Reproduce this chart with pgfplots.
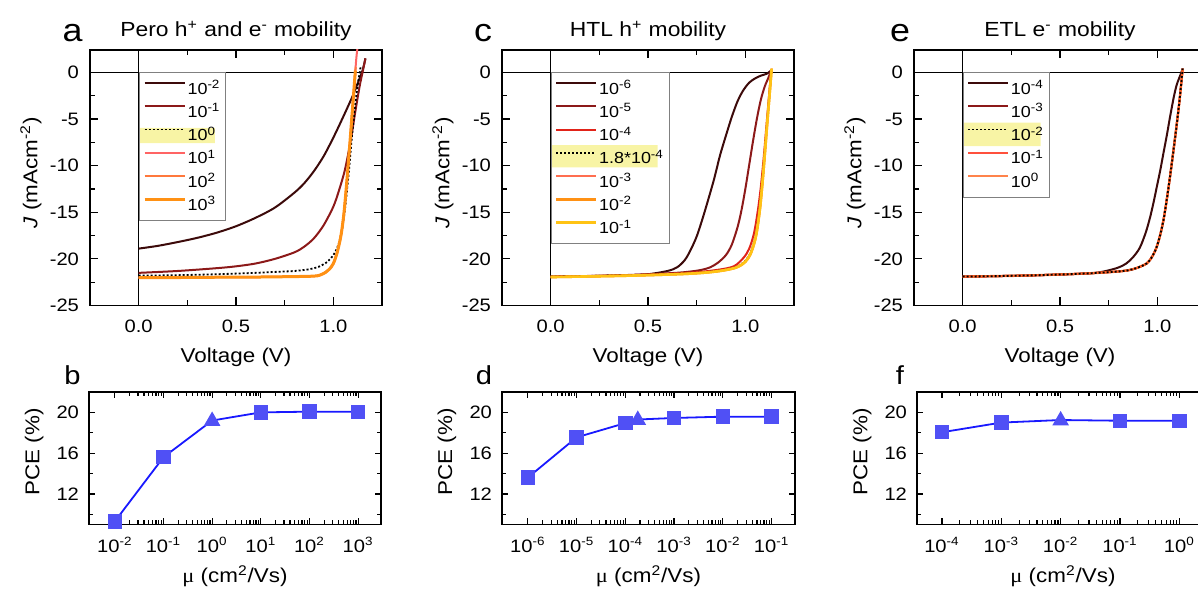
\documentclass[border=0pt]{standalone}
\usepackage{pgfplots}
\pgfplotsset{compat=1.18}
\usepackage{fontspec}
\setmainfont[FakeStretch=1.12]{Liberation Sans}
\newfontfamily\mufont[FakeStretch=1.12]{Liberation Serif}
\definecolor{dk}{RGB}{60,10,10}
\definecolor{dr}{RGB}{140,25,25}
\definecolor{rd}{RGB}{225,35,25}
\definecolor{sal}{RGB}{255,100,100}
\definecolor{sal2}{RGB}{255,110,80}
\definecolor{orr}{RGB}{255,120,60}
\definecolor{org}{RGB}{255,145,20}
\definecolor{ylw}{RGB}{255,195,20}
\definecolor{er1}{RGB}{255,80,60}
\definecolor{er0}{RGB}{255,100,30}
\definecolor{hl}{RGB}{248,244,165}
\definecolor{bline}{RGB}{25,25,255}
\definecolor{bmark}{RGB}{80,80,245}
\pgfplotsset{
  every axis/.append style={scale only axis, anchor=south west,
    axis line style={line width=0.7pt}, tick style={line width=0.6pt, black},
    tick align=inside, /pgf/number format/assume math mode=true,
    tick label style={font=\fontsize{9}{10}\selectfont},
    label style={font=\fontsize{10}{12}\selectfont},
    title style={font=\fontsize{10.2}{12}\selectfont, at={(0.5,1)}, anchor=base, yshift=0.5pt},
  },
  every axis plot/.append style={line width=1pt},
  zeroline/.style={black, line width=0.6pt, forget plot},
  hlbox/.style={fill=hl, draw=none, forget plot},
  dotline/.style={black, densely dotted, line width=0.9pt},
  jv/.style={width=146pt, height=127.75pt, xmin=-0.25, xmax=1.25, ymin=-25, ymax=2.4,
    xtick={0,0.5,1}, xticklabels={0.0,0.5,1.0}, minor xtick={0.25,0.75},
    ytick={-25,-20,-15,-10,-5,0}, minor ytick={-22.5,-17.5,-12.5,-7.5,-2.5},
    major tick length=4pt, minor tick length=2.5pt,
    xticklabel style={anchor=base, yshift=-13.75pt},
    yticklabel style={anchor=east, xshift=-2pt},
    xlabel={Voltage (V)}, ylabel={\textit{J} (mAcm\textsuperscript{-2})},
    xlabel style={at={(axis description cs:0.5,0)}, anchor=base, yshift=-28.75pt},
    ylabel style={at={(axis description cs:-0.202,0.52)}, anchor=center, rotate=0},
    legend cell align=left,
    legend image code/.code={\draw[##1] (0pt,2.8pt) -- (20pt,2.8pt);},
    legend style={draw=gray, line width=0.5pt, fill=none, inner sep=2pt, row sep=0pt,
      font=\fontsize{8}{9}\selectfont,
      nodes={inner sep=0.7pt, text height=7.9pt, text depth=2.35pt}},
  },
  pce/.style={width=146pt, height=66.25pt, ymin=9, ymax=22,
    ytick={12,16,20}, minor ytick={10,14,18,22},
    major tick length=3pt, minor tick length=2pt,
    xticklabel style={anchor=base, yshift=-14.25pt},
    yticklabel style={anchor=east, xshift=-1.5pt},
    ylabel={PCE (\%)}, xlabel={{\mufont μ} (cm\textsuperscript{2}/Vs)},
    xlabel style={at={(axis description cs:0.5,0)}, anchor=base, yshift=-29.25pt},
    ylabel style={at={(axis description cs:-0.188,0.547)}, anchor=center},
    log number format basis/.code 2 args={##1\textsuperscript{\pgfmathprintnumber{##2}}},
  },
  pline/.style={color=bline, line width=0.9pt, mark=none},
  psq/.style={only marks, mark=square*, mark size=3.1pt, mark options={fill=bmark, draw=bmark}},
  ptri/.style={only marks, mark=triangle*, mark size=3.8pt, mark options={fill=bmark, draw=bmark}},
}
\begin{document}
\begin{tikzpicture}
\path[use as bounding box] (0,0) rectangle (599pt,296pt);
\node[anchor=base, font=\fontsize{16}{18}\selectfont] at (36.25pt,275pt) {a};
\node[anchor=base, font=\fontsize{16}{18}\selectfont] at (241.5pt,275pt) {c};
\node[anchor=base, font=\fontsize{16}{18}\selectfont] at (450pt,275pt) {e};
\node[anchor=base, font=\fontsize{13}{15}\selectfont] at (36.25pt,103.5pt) {b};
\node[anchor=base, font=\fontsize{13}{15}\selectfont] at (242pt,103.5pt) {d};
\node[anchor=base, font=\fontsize{13}{15}\selectfont] at (450pt,103.5pt) {f};

% ---------- a ----------
\begin{axis}[jv, at={(45pt,143.25pt)}, title={Pero h\textsuperscript{+} and e\textsuperscript{-} mobility},
  legend style={at={(0.16667,0.91241)}, anchor=north west}]
\addplot[hlbox] coordinates {(0,-5.95) (0.392,-5.95) (0.392,-7.6) (0,-7.6) (0,-5.95)};
\addplot[zeroline] coordinates {(-0.25,0) (1.25,0)};
\addplot[zeroline] coordinates {(0,-25) (0,2.4)};
\addplot[dk, smooth] coordinates {(0,-18.9) (0.1,-18.6) (0.2,-18.2) (0.3,-17.75) (0.4,-17.2) (0.5,-16.5) (0.6,-15.6) (0.7,-14.5) (0.8,-12.9) (0.85,-11.9) (0.9,-10.6) (0.95,-9.0) (1.0,-7.0) (1.05,-4.8) (1.1,-2.5) (1.13,-0.9) (1.15,0.2) (1.165,1.5)};
\addlegendentry{10\textsuperscript{-2}}
\addplot[dr, smooth] coordinates {(0,-21.5) (0.2,-21.3) (0.4,-21.0) (0.5,-20.8) (0.6,-20.5) (0.7,-20.0) (0.8,-19.3) (0.85,-18.7) (0.9,-17.8) (0.95,-16.4) (1.0,-14.4) (1.03,-12.6) (1.06,-10.4) (1.09,-7.2) (1.113,-4.2) (1.135,-1.5) (1.152,0.2) (1.165,1.5)};
\addlegendentry{10\textsuperscript{-1}}
\addplot[dotline, smooth] coordinates {(0,-21.8) (0.2,-21.75) (0.4,-21.65) (0.6,-21.5) (0.7,-21.4) (0.8,-21.3) (0.88,-21.1) (0.93,-20.8) (0.97,-20.3) (1.0,-19.6) (1.02,-18.8) (1.04,-17.4) (1.06,-14.6) (1.079,-10.8) (1.095,-7.0) (1.113,-3.4) (1.127,-1.1) (1.136,0) (1.14,0.6)};
\addlegendentry{10\textsuperscript{0}}
\addplot[sal, smooth] coordinates {(0,-22.0) (0.2,-22.0) (0.4,-21.97) (0.6,-21.95) (0.8,-21.9) (0.9,-21.85) (0.93,-21.75) (0.96,-21.45) (0.98,-21.1) (1.0,-20.5) (1.02,-19.3) (1.04,-17.4) (1.055,-15.0) (1.07,-11.5) (1.085,-7.6) (1.098,-4.0) (1.11,-0.7) (1.118,1.5) (1.126,3.0)};
\addlegendentry{10\textsuperscript{1}}
\addplot[orr, smooth] coordinates {(0,-22.0) (0.2,-22.0) (0.4,-21.97) (0.6,-21.95) (0.8,-21.9) (0.9,-21.85) (0.93,-21.75) (0.96,-21.45) (0.98,-21.1) (1.0,-20.5) (1.02,-19.3) (1.04,-17.4) (1.055,-15.0) (1.07,-11.5) (1.085,-7.6) (1.098,-4.0) (1.11,-0.7) (1.115,0.6)};
\addlegendentry{10\textsuperscript{2}}
\addplot[org, smooth, line width=1.5pt] coordinates {(0,-22.0) (0.2,-22.0) (0.4,-21.97) (0.6,-21.95) (0.8,-21.9) (0.9,-21.85) (0.93,-21.75) (0.96,-21.45) (0.98,-21.1) (1.0,-20.5) (1.02,-19.3) (1.04,-17.4) (1.055,-15.0) (1.07,-11.5) (1.085,-7.6) (1.098,-4.0) (1.11,-0.7) (1.113,0.2)};
\addlegendentry{10\textsuperscript{3}}
\end{axis}

% ---------- c ----------
\begin{axis}[jv, at={(251pt,143.25pt)}, title={HTL h\textsuperscript{+} mobility},
  legend style={at={(0.16667,0.91241)}, anchor=north west}]
\addplot[hlbox] coordinates {(0,-7.8) (0.55,-7.8) (0.55,-10.2) (0,-10.2) (0,-7.8)};
\addplot[zeroline] coordinates {(-0.25,0) (1.25,0)};
\addplot[zeroline] coordinates {(0,-25) (0,2.4)};
\addplot[dk, smooth] coordinates {(0,-21.9) (0.2,-21.85) (0.4,-21.75) (0.5,-21.65) (0.6,-21.3) (0.65,-20.9) (0.69,-20.1) (0.72,-19.0) (0.75,-17.6) (0.78,-15.7) (0.81,-13.6) (0.84,-11.4) (0.87,-8.9) (0.9,-6.8) (0.93,-4.8) (0.96,-3.1) (0.99,-1.9) (1.02,-1.1) (1.05,-0.65) (1.08,-0.35) (1.11,-0.15) (1.132,0.2)};
\addlegendentry{10\textsuperscript{-6}}
\addplot[dr, smooth] coordinates {(0,-21.9) (0.3,-21.8) (0.6,-21.55) (0.7,-21.4) (0.77,-21.2) (0.82,-20.9) (0.86,-20.4) (0.9,-19.6) (0.93,-18.5) (0.96,-16.6) (0.98,-14.8) (1.0,-12.5) (1.02,-9.9) (1.04,-7.3) (1.06,-4.9) (1.08,-2.9) (1.1,-1.5) (1.12,-0.5) (1.132,0.2)};
\addlegendentry{10\textsuperscript{-5}}
\addplot[rd, smooth] coordinates {(0,-21.9) (0.4,-21.75) (0.7,-21.5) (0.85,-21.2) (0.94,-20.8) (0.99,-19.9) (1.02,-18.9) (1.045,-17.2) (1.065,-14.7) (1.08,-12.2) (1.095,-9.0) (1.106,-6.3) (1.118,-3.4) (1.128,-1.0) (1.134,0.3)};
\addlegendentry{10\textsuperscript{-4}}
\addplot[dotline, smooth] coordinates {(0,-21.9) (0.4,-21.75) (0.7,-21.55) (0.85,-21.3) (0.95,-20.9) (1.0,-20.2) (1.03,-19.2) (1.055,-17.3) (1.075,-14.3) (1.09,-11.0) (1.102,-8.0) (1.114,-4.8) (1.125,-2.0) (1.134,0.3)};
\addlegendentry{1.8*10\textsuperscript{-4}}
\addplot[sal2, smooth, line width=0.8pt] coordinates {(0,-21.95) (0.4,-21.8) (0.7,-21.6) (0.85,-21.35) (0.95,-20.95) (1.0,-20.3) (1.03,-19.3) (1.055,-17.5) (1.075,-14.6) (1.09,-11.3) (1.102,-8.2) (1.114,-5.0) (1.125,-2.2) (1.135,0.4)};
\addlegendentry{10\textsuperscript{-3}}
\addplot[org, smooth, line width=1.3pt] coordinates {(0,-21.95) (0.4,-21.8) (0.7,-21.6) (0.85,-21.35) (0.95,-20.95) (1.0,-20.3) (1.03,-19.3) (1.055,-17.5) (1.075,-14.6) (1.09,-11.3) (1.102,-8.2) (1.114,-5.0) (1.125,-2.2) (1.135,0.4)};
\addlegendentry{10\textsuperscript{-2}}
\addplot[ylw, smooth, line width=1.3pt] coordinates {(0,-21.95) (0.4,-21.8) (0.7,-21.6) (0.85,-21.35) (0.95,-20.95) (1.0,-20.3) (1.03,-19.3) (1.055,-17.5) (1.075,-14.6) (1.09,-11.3) (1.102,-8.2) (1.114,-5.0) (1.125,-2.2) (1.135,0.4)};
\addlegendentry{10\textsuperscript{-1}}
\end{axis}

% ---------- e ----------
\begin{axis}[jv, at={(457pt,143.25pt)}, title={ETL e\textsuperscript{-} mobility},
  legend style={at={(0.16667,0.91241)}, anchor=north west}]
\addplot[hlbox] coordinates {(0,-5.4) (0.40,-5.4) (0.40,-7.9) (0,-7.9) (0,-5.4)};
\addplot[zeroline] coordinates {(-0.25,0) (1.25,0)};
\addplot[zeroline] coordinates {(0,-25) (0,2.4)};
\addplot[dk, smooth] coordinates {(0,-21.9) (0.3,-21.8) (0.6,-21.6) (0.7,-21.45) (0.79,-21.0) (0.84,-20.5) (0.876,-19.8) (0.91,-18.8) (0.94,-17.2) (0.962,-15.6) (0.98,-14.0) (0.997,-12.3) (1.015,-10.5) (1.031,-8.7) (1.05,-6.6) (1.065,-4.8) (1.085,-2.6) (1.1,-1.3) (1.12,-0.2) (1.13,0.4)};
\addlegendentry{10\textsuperscript{-4}}
\addplot[dr, smooth] coordinates {(0,-21.9) (0.3,-21.8) (0.6,-21.6) (0.8,-21.35) (0.876,-21.1) (0.945,-20.5) (0.975,-19.7) (0.997,-18.7) (1.015,-17.4) (1.031,-15.9) (1.048,-13.7) (1.065,-11.2) (1.082,-8.5) (1.1,-5.5) (1.115,-2.8) (1.13,0.4)};
\addlegendentry{10\textsuperscript{-3}}
\addplot[dotline, smooth] coordinates {(0,-21.9) (0.3,-21.8) (0.6,-21.6) (0.8,-21.35) (0.876,-21.1) (0.945,-20.5) (0.975,-19.7) (0.997,-18.7) (1.015,-17.4) (1.031,-15.9) (1.048,-13.7) (1.065,-11.2) (1.082,-8.5) (1.1,-5.5) (1.115,-2.8) (1.13,0.4)};
\addlegendentry{10\textsuperscript{-2}}
\addplot[er1, smooth] coordinates {(0,-21.9) (0.3,-21.8) (0.6,-21.6) (0.8,-21.35) (0.876,-21.1) (0.945,-20.5) (0.975,-19.7) (0.997,-18.7) (1.015,-17.4) (1.031,-15.9) (1.048,-13.7) (1.065,-11.2) (1.082,-8.5) (1.1,-5.5) (1.115,-2.8) (1.13,0.4)};
\addlegendentry{10\textsuperscript{-1}}
\addplot[er0, smooth, line width=1.2pt, opacity=0.8] coordinates {(0,-21.9) (0.3,-21.8) (0.6,-21.6) (0.8,-21.35) (0.876,-21.1) (0.945,-20.5) (0.975,-19.7) (0.997,-18.7) (1.015,-17.4) (1.031,-15.9) (1.048,-13.7) (1.065,-11.2) (1.082,-8.5) (1.1,-5.5) (1.115,-2.8) (1.13,0.4)};
\addlegendentry{10\textsuperscript{0}}
\addplot[black, densely dotted, line width=0.9pt, smooth, forget plot] coordinates {(0,-21.9) (0.3,-21.8) (0.6,-21.6) (0.8,-21.35) (0.876,-21.1) (0.945,-20.5) (0.975,-19.7) (0.997,-18.7) (1.015,-17.4) (1.031,-15.9) (1.048,-13.7) (1.065,-11.2) (1.082,-8.5) (1.1,-5.5) (1.115,-2.8) (1.13,0.4)};
\end{axis}

% ---------- b ----------
\begin{semilogxaxis}[pce, at={(44.5pt,33.75pt)}, xmin=0.002951, xmax=2951, xtickten={-2,-1,0,1,2,3}]
\addplot[pline] coordinates {(1e-2,9.3) (1e-1,15.6) (1,19.2) (1e1,20.0) (1e2,20.07) (1e3,20.05)};
\addplot[psq] coordinates {(1e-2,9.3) (1e-1,15.6) (1e1,20.0) (1e2,20.07) (1e3,20.05)};
\addplot[ptri] coordinates {(1,19.15)};
\end{semilogxaxis}

% ---------- d ----------
\begin{semilogxaxis}[pce, at={(251pt,33.75pt)}, width=146.5pt, xmin=2.951e-7, xmax=0.302, xtickten={-6,-5,-4,-3,-2,-1}]
\addplot[pline] coordinates {(1e-6,13.6) (1e-5,17.55) (1e-4,18.95) (1.8e-4,19.3) (1e-3,19.45) (1e-2,19.58) (1e-1,19.58)};
\addplot[psq] coordinates {(1e-6,13.6) (1e-5,17.55) (1e-4,18.95) (1e-3,19.45) (1e-2,19.58) (1e-1,19.58)};
\addplot[ptri] coordinates {(1.8e-4,19.25)};
\end{semilogxaxis}

% ---------- f ----------
\begin{semilogxaxis}[pce, at={(458.5pt,33.75pt)}, xmin=3.8e-5, xmax=3.16, xtickten={-4,-3,-2,-1,0}]
\addplot[pline] coordinates {(1e-4,18.05) (1e-3,19.0) (1e-2,19.25) (1e-1,19.18) (1,19.18)};
\addplot[psq] coordinates {(1e-4,18.05) (1e-3,19.0) (1e-1,19.18) (1,19.18)};
\addplot[ptri] coordinates {(1e-2,19.2)};
\end{semilogxaxis}
\end{tikzpicture}
\end{document}
